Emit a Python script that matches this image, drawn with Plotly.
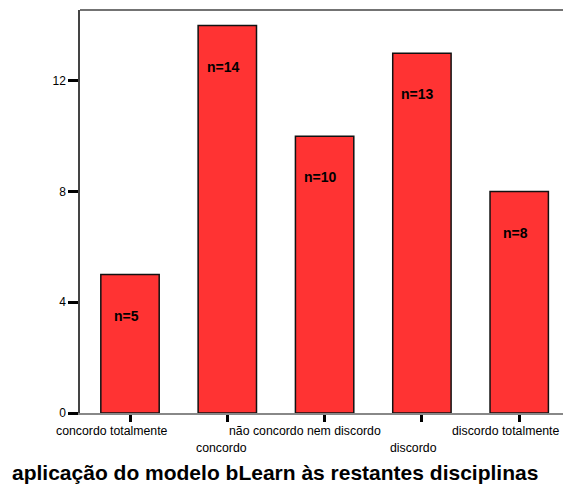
import plotly.graph_objects as go

categories = ["concordo totalmente", "concordo", "não concordo nem discordo", "discordo", "discordo totalmente"]
counts = [5, 14, 10, 13, 8]
label_rows = [0, 1, 0, 1, 0]
label_xshift = [-18, -6, -20, -8, -14]
y_ticks = [0, 4, 8, 12]
title = "aplicação do modelo bLearn às restantes disciplinas"

FONT = "Liberation Sans, Arial, sans-serif"

W, H = 563, 487
L, T, B = 80, 10, 74

fig = go.Figure()
fig.add_trace(go.Bar(
    x=list(range(len(categories))), y=counts,
    width=0.6,
    marker=dict(color="#FF3333", line=dict(color="#111111", width=1.5)),
    hoverinfo="skip",
))

annotations = []
for i, (c, v) in enumerate(zip(categories, counts)):
    annotations.append(dict(x=i, y=v, xref="x", yref="y", text=f"<b>n={v}</b>",
                            showarrow=False, yshift=-41, xshift=-4,
                            font=dict(family=FONT, size=14, color="black")))
    annotations.append(dict(x=i, y=0, xref="x", yref="paper", text=c, showarrow=False,
                            yanchor="middle", yshift=-18 - 17 * label_rows[i],
                            xshift=label_xshift[i],
                            font=dict(family=FONT, size=12.3, color="black")))
annotations.append(dict(x=(275 - L) / (W - L), y=0, xref="paper", yref="paper", text=f"<b>{title}</b>",
                        showarrow=False, yanchor="middle", yshift=-59,
                        font=dict(family=FONT, size=21, color="black")))

fig.update_layout(
    width=W, height=H,
    margin=dict(l=L, r=0, t=T, b=B),
    paper_bgcolor="white", plot_bgcolor="white",
    showlegend=False,
    annotations=annotations,
    shapes=[dict(type="line", xref="paper", yref="paper", x0=0, x1=1, y0=1, y1=1,
                 line=dict(color="#444444", width=1.5))],
    xaxis=dict(range=[-0.514, 4.45], tickvals=list(range(len(categories))), showticklabels=False,
               ticks="outside", ticklen=7, tickwidth=3, tickcolor="black",
               showline=True, linecolor="#888888", linewidth=1.5, showgrid=False, zeroline=False),
    yaxis=dict(range=[0, 14.56], tickvals=y_ticks, ticks="outside", ticklen=10, tickwidth=3,
               tickcolor="black", showline=True, linecolor="#444444", linewidth=1.5,
               showgrid=False, zeroline=False,
               tickfont=dict(family=FONT, size=12, color="black")),
)

fig.write_html("out.html",
               config={"displayModeBar": False},
               post_script="document.body.style.margin='0';document.body.style.overflow='hidden';")
